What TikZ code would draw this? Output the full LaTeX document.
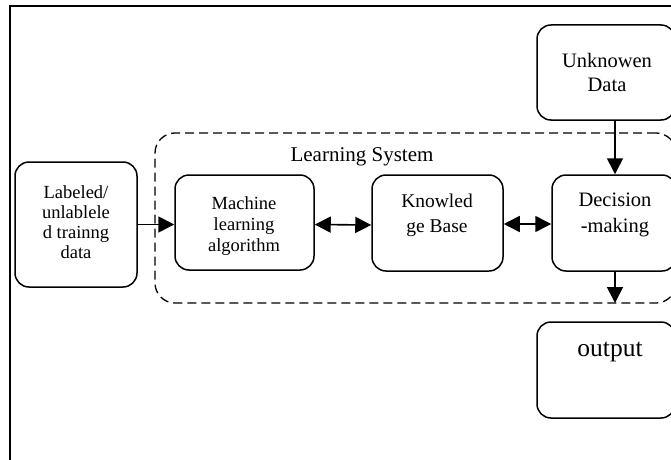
\documentclass[tikz,border=0pt]{standalone}
\usepackage{fontspec}
\setmainfont{Liberation Serif}
\usetikzlibrary{arrows.meta}
\tikzset{
  box/.style={draw, line width=1.5pt, rounded corners=14pt, inner sep=0pt},
  txt/.style={align=center, inner sep=0pt},
  arr/.style={line width=1.6pt, -{Triangle[length=16pt,width=16pt]}},
  darr/.style={line width=1.6pt, {Triangle[length=16pt,width=16pt]}-{Triangle[length=16pt,width=16pt]}},
  frame/.style={line width=1.3pt},
  group/.style={draw, dashed, dash pattern=on 9pt off 5pt, line width=1.3pt, rounded corners=20pt, inner sep=0pt}
}
\begin{document}
\begin{tikzpicture}[x=1pt,y=1pt]
\useasboundingbox (0,0) rectangle (671,459);
\clip (0,0) rectangle (671,459);
\fill[white] (0,0) rectangle (671,459);
% frame
\coordinate (fbl) at (10,-5);
\coordinate (ftl) at (10,453);
\coordinate (ftr) at (680,453);
\draw[frame] (fbl) -- (ftl) -- (ftr);
% group
\node[group, minimum width=521pt, minimum height=170pt] (ls) at (415.5,241) {};
\node[txt, font=\fontsize{21}{24}\selectfont] (lstxt) at (362,302) {Learning System};
% boxes
\node[box, minimum width=122pt, minimum height=125pt] (lab) at (76,234.5) {};
\node[box, minimum width=139pt, minimum height=95pt] (mla) at (244.5,236.5) {};
\node[box, minimum width=131pt, minimum height=96pt] (kb) at (437.5,236) {};
\node[box, minimum width=124pt, minimum height=96pt] (dec) at (614,236) {};
\node[box, minimum width=138pt, minimum height=95pt] (unk) at (606,386.5) {};
\node[box, minimum width=138pt, minimum height=96pt] (out) at (606,89) {};
% texts
\node[txt, font=\fontsize{18.5}{20}\selectfont] (labtxt) at (76,237) {Labeled/\\unlablele\\d trainng\\data};
\node[txt, font=\fontsize{18.5}{21}\selectfont] (mlatxt) at (244,233) {Machine\\learning\\algorithm};
\node[txt, font=\fontsize{19.5}{25}\selectfont] (kbtxt) at (437,243.5) {Knowled\\ge Base};
\node[txt, font=\fontsize{20.5}{26}\selectfont] (dectxt) at (615,244) {Decision\\-making};
\node[txt, font=\fontsize{20.5}{24}\selectfont] (unktxt) at (607,387) {Unknowen\\Data};
\node[txt, font=\fontsize{25.5}{28}\selectfont] (outtxt) at (610,107) {output};
% connectors
\draw[arr] (lab.east) -- (lab.east -| mla.west);
\draw[darr] ([yshift=-2pt]mla.east) -- ([yshift=-2pt]kb.west);
\draw[darr] ([yshift=-1pt]kb.east) -- ([yshift=-1pt]kb.east -| dec.west);
\coordinate (dtop) at (615,339);
\draw[arr] (dtop) -- (dtop |- dec.north);
\coordinate (dbot) at (615,156);
\draw[arr] (dbot |- dec.south) -- (dbot);
\end{tikzpicture}
\end{document}
